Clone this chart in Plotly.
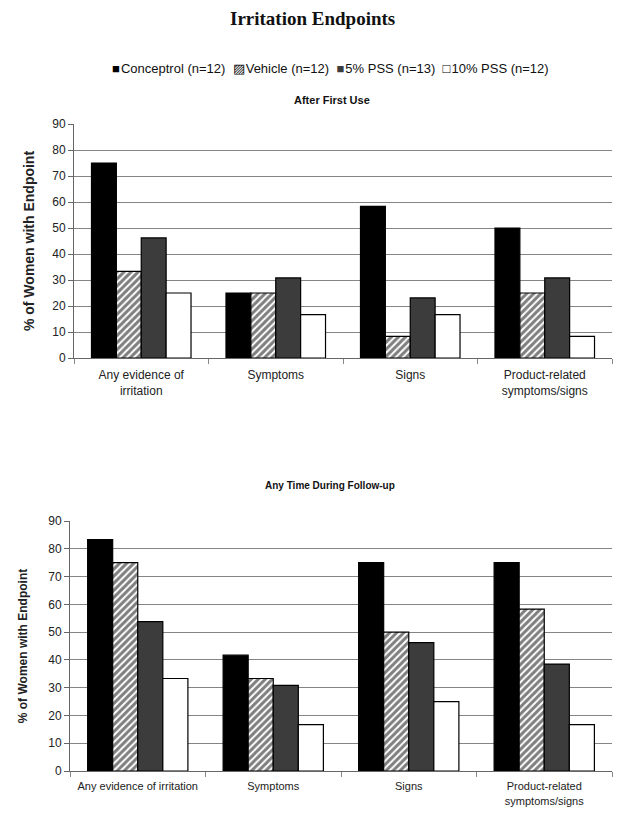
import plotly.graph_objects as go

categories_top = ["Any evidence of<br>irritation", "Symptoms", "Signs", "Product-related<br>symptoms/signs"]
categories_bot = ["Any evidence of irritation", "Symptoms", "Signs", "Product-related<br>symptoms/signs"]
series_names = ["Conceptrol (n=12)", "Vehicle (n=12)", "5% PSS (n=13)", "10% PSS (n=12)"]

first_use = {
    "Conceptrol (n=12)": [75.0, 25.0, 58.3, 50.0],
    "Vehicle (n=12)": [33.3, 25.0, 8.3, 25.0],
    "5% PSS (n=13)": [46.2, 30.8, 23.1, 30.8],
    "10% PSS (n=12)": [25.0, 16.7, 16.7, 8.3],
}
follow_up = {
    "Conceptrol (n=12)": [83.3, 41.7, 75.0, 75.0],
    "Vehicle (n=12)": [75.0, 33.3, 50.0, 58.3],
    "5% PSS (n=13)": [53.8, 30.8, 46.2, 38.5],
    "10% PSS (n=12)": [33.3, 16.7, 25.0, 16.7],
}
y_ticks = [0, 10, 20, 30, 40, 50, 60, 70, 80, 90]

styles = {
    "Conceptrol (n=12)": dict(color="#000000"),
    "Vehicle (n=12)": dict(color="#ffffff", pattern=dict(shape="/", fgcolor="#000000", bgcolor="#ffffff", size=5, solidity=0.6)),
    "5% PSS (n=13)": dict(color="#3c3c3c"),
    "10% PSS (n=12)": dict(color="#ffffff"),
}
legend_glyphs = {
    "Conceptrol (n=12)": ("■", "#000000"),
    "Vehicle (n=12)": ("▨", "#000000"),
    "5% PSS (n=13)": ("■", "#3c3c3c"),
    "10% PSS (n=12)": ("□", "#000000"),
}

fig = go.Figure()
for name in series_names:
    st = styles[name]
    fig.add_trace(go.Bar(
        x=categories_top, y=first_use[name], name=name, legendgroup=name,
        marker=dict(line=dict(color="#000000", width=1.2), **st),
        xaxis="x", yaxis="y", showlegend=False))
for name in series_names:
    st = styles[name]
    fig.add_trace(go.Bar(
        x=categories_bot, y=follow_up[name], name=name, legendgroup=name,
        marker=dict(line=dict(color="#000000", width=1.2), **st),
        xaxis="x2", yaxis="y2", showlegend=False))

font_family = "Liberation Sans, Arial, sans-serif"
axis_common = dict(showline=True, linecolor="#666666", linewidth=1, automargin=False)
yaxis_common = dict(range=[0, 90], tickvals=y_ticks, showgrid=True, gridcolor="#858585", gridwidth=1,
                    ticks="outside", ticklen=5, tickcolor="#666666",
                    tickfont=dict(size=12, family=font_family, color="#222222"), **axis_common)
xaxis_common = dict(ticks="outside", tickson="boundaries", ticklen=5, tickcolor="#888888", tickangle=0,
                    **axis_common)

legend_text = "&nbsp;&nbsp;".join(
    f"<span style='color:{legend_glyphs[n][1]}'>{legend_glyphs[n][0]}</span>&#8202;{n}" for n in series_names
)

# page is rendered with an 8px body margin, so the figure is 616x810 offset by 8px
W = 616.0
H = 810.0
fig.update_layout(
    width=616, height=810,
    margin=dict(l=0, r=0, t=0, b=0),
    paper_bgcolor="white", plot_bgcolor="white",
    barmode="group", bargap=0.26, bargroupgap=0.0,
    showlegend=False,
    font=dict(family=font_family, color="#222222"),
    xaxis=dict(domain=[66 / W, 604 / W], anchor="y", ticklabelstandoff=6,
               tickfont=dict(size=12, family=font_family, color="#222222"), **xaxis_common),
    yaxis=dict(domain=[1 - 350 / H, 1 - 116 / H], anchor="x",
               title=dict(text="<b>% of Women with Endpoint</b>", font=dict(size=14, family=font_family, color="#222222"), standoff=14),
               **yaxis_common),
    xaxis2=dict(domain=[62 / W, 604 / W], anchor="y2", ticklabelstandoff=5,
                tickfont=dict(size=11, family=font_family, color="#222222"), **xaxis_common),
    yaxis2=dict(domain=[1 - 763 / H, 1 - 513 / H], anchor="x2",
                title=dict(text="<b>% of Women with Endpoint</b>", font=dict(size=12, family=font_family, color="#222222"), standoff=18),
                **yaxis_common),
    annotations=[
        dict(text="<b>Irritation Endpoints</b>", x=304 / W, y=1 - 10 / H, xref="paper", yref="paper",
             xanchor="center", yanchor="middle", showarrow=False,
             font=dict(size=19, family="Liberation Serif, Times New Roman, serif", color="#111111")),
        dict(text=legend_text, x=322 / W, y=1 - 60 / H, xref="paper", yref="paper",
             xanchor="center", yanchor="middle", showarrow=False,
             font=dict(size=13, family=font_family, color="#111111")),
        dict(text="<b>After First Use</b>", x=324 / W, y=1 - 92 / H, xref="paper", yref="paper",
             xanchor="center", yanchor="middle", showarrow=False,
             font=dict(size=11, family=font_family, color="#111111")),
        dict(text="<b>Any Time During Follow-up</b>", x=322 / W, y=1 - 477 / H, xref="paper", yref="paper",
             xanchor="center", yanchor="middle", showarrow=False,
             font=dict(size=10, family=font_family, color="#111111")),
    ],
)

fig.write_html("out.html")
